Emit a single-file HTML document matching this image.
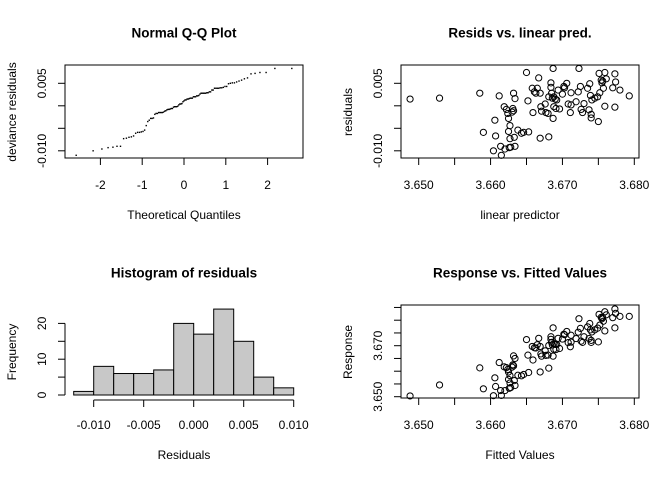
<!DOCTYPE html>
<html><head><meta charset="utf-8"><style>
body{margin:0;background:#fff}
svg{display:block;font-family:"Liberation Sans",Arial,sans-serif}
</style></head><body>
<svg id="c" width="672" height="480" xmlns="http://www.w3.org/2000/svg"></svg>
<script>
// data: linear predictor and residuals
const predVals=[3.6488,3.6529,3.6585,3.6590,3.6606,3.6604,3.6607,3.6612,3.6614,3.6615,3.6619,3.6620,3.6622,3.6624,3.6625,3.6625,3.6626,3.6627,3.6627,3.6628,3.6630,3.6631,3.6632,3.6632,3.6633,3.6634,3.6634,3.6638,3.6643,3.6646,3.6650,3.6652,3.6653,3.6658,3.6659,3.6661,3.6663,3.6665,3.6667,3.6669,3.6669,3.6670,3.6671,3.6676,3.6677,3.6680,3.6681,3.6681,3.6684,3.6684,3.6685,3.6686,3.6687,3.6687,3.6688,3.6688,3.6690,3.6691,3.6692,3.6694,3.6696,3.6700,3.6702,3.6703,3.6706,3.6708,3.6711,3.6712,3.6712,3.6719,3.6722,3.6723,3.6725,3.6726,3.6728,3.6730,3.6735,3.6737,3.6738,3.6739,3.6740,3.6740,3.6741,3.6745,3.6749,3.6750,3.6751,3.6752,3.6754,3.6755,3.6756,3.6757,3.6759,3.6759,3.6761,3.6770,3.6773,3.6773,3.6774,3.6780,3.6793];
const residVals=[0.0015,0.0017,0.0028,-0.0059,-0.0032,-0.0100,-0.0067,0.0022,-0.0090,-0.0110,-0.0002,-0.0096,-0.0008,-0.0017,-0.0028,-0.0057,-0.0093,-0.0044,-0.0073,-0.0092,-0.0014,-0.0006,0.0028,-0.0011,-0.0070,-0.0090,0.0016,-0.0054,-0.0061,-0.0059,0.0074,0.0011,-0.0058,0.0039,-0.0015,0.0031,0.0028,0.0039,0.0062,0.0028,-0.0072,-0.0002,-0.0012,0.0004,-0.0015,-0.0017,-0.0069,0.0020,0.0051,0.0041,0.0028,0.0017,-0.0028,0.0083,-0.0002,0.0020,0.0015,-0.0006,0.0013,0.0035,-0.0007,0.0026,0.0043,0.0040,0.0050,0.0004,-0.0015,0.0029,0.0002,0.0009,0.0031,0.0083,0.0043,-0.0008,-0.0015,0.0005,0.0039,-0.0009,0.0049,0.0023,-0.0019,-0.0027,0.0013,0.0017,0.0020,-0.0035,0.0072,0.0029,0.0057,0.0051,0.0055,0.0039,0.0074,-0.0001,0.0060,0.0040,0.0071,-0.0003,0.0053,0.0035,0.0022];
const histBreaks=[-0.012,-0.010,-0.008,-0.006,-0.004,-0.002,0,0.002,0.004,0.006,0.008,0.010];
const histCounts=[1,8,6,6,7,20,17,24,15,5,2];
const qqXTicks=[-2,-1,0,1,2];
const residTicks=[-0.010,-0.005,0,0.005];
const residTickLabels=["-0.010","","","0.005"];
const predTicks=[3.650,3.655,3.660,3.665,3.670,3.675,3.680];
const predTickLabels=["3.650","","3.660","","3.670","","3.680"];
const histXTicks=[-0.010,-0.005,0,0.005,0.010];
const histXLabels=["-0.010","-0.005","0.000","0.005","0.010"];
const histYTicks=[0,5,10,15,20];
const histYLabels=["0","","10","","20"];
const respTicks=[3.650,3.655,3.660,3.665,3.670,3.675,3.680,3.685];
const respTickLabels=["3.650","","","","3.670","","",""];

const svg=document.getElementById('c');
const NS='http://www.w3.org/2000/svg';
function mk(tag,attrs,name,parent){const e=document.createElementNS(NS,tag);for(const k in attrs)e.setAttribute(k,attrs[k]);


(parent||svg).appendChild(e);return e;}
function txt(s,x,y,name,opt,parent){opt=opt||{};const a={x:x,y:y,'font-size':opt.size||12,'text-anchor':'middle','dominant-baseline':'central',fill:'#000'};
if(opt.bold)a['font-weight']='bold';if(opt.rot)a.transform='rotate(-90 '+x+' '+y+')';const t=mk('text',a,name,parent);t.textContent=s;return t;}
function lin(d0,d1,r0,r1){return v=>r0+(v-d0)*(r1-r0)/(d1-d0);}

// qnorm (Acklam)
function qnorm(p){const a=[-39.6968302866538,220.946098424521,-275.928510446969,138.357751867269,-30.6647980661472,2.50662827745924],
b=[-54.4760987982241,161.585836858041,-155.698979859887,66.8013118877197,-13.2806815528857],
c=[-0.00778489400243029,-0.322396458041136,-2.40075827716184,-2.54973253934373,4.37466414146497,2.93816398269878],
d=[0.00778469570904146,0.32246712907004,2.445134137143,3.75440866190742];
let q,r;if(p<0.02425){q=Math.sqrt(-2*Math.log(p));return(((((c[0]*q+c[1])*q+c[2])*q+c[3])*q+c[4])*q+c[5])/((((d[0]*q+d[1])*q+d[2])*q+d[3])*q+1);}
if(p>1-0.02425){q=Math.sqrt(-2*Math.log(1-p));return-(((((c[0]*q+c[1])*q+c[2])*q+c[3])*q+c[4])*q+c[5])/((((d[0]*q+d[1])*q+d[2])*q+d[3])*q+1);}
q=p-0.5;r=q*q;return(((((a[0]*r+a[1])*r+a[2])*r+a[3])*r+a[4])*r+a[5])*q/(((((b[0]*r+b[1])*r+b[2])*r+b[3])*r+b[4])*r+1);}

function box(x0,y0,x1,y1,name,g){mk('rect',{x:x0,y:y0,width:x1-x0,height:y1-y0,fill:'none',stroke:'#000','stroke-width':1},name,g);}
function xAxis(g,ticks,labels,sx,yLine,labY,name){const ax=mk('g',{},name,g);
mk('line',{x1:sx(ticks[0]),x2:sx(ticks[ticks.length-1]),y1:yLine,y2:yLine,stroke:'#000'},name+'-line',ax);
ticks.forEach((t,i)=>{mk('line',{x1:sx(t),x2:sx(t),y1:yLine,y2:yLine+7,stroke:'#000'},'x-tick',ax);if(labels[i])txt(labels[i],sx(t),labY,'x-tick-label',{},ax);});}
function yAxis(g,ticks,labels,sy,xLine,labX,name){const ax=mk('g',{},name,g);
mk('line',{x1:xLine,x2:xLine,y1:sy(ticks[0]),y2:sy(ticks[ticks.length-1]),stroke:'#000'},name+'-line',ax);
ticks.forEach((t,i)=>{mk('line',{x1:xLine,x2:xLine-7,y1:sy(t),y2:sy(t),stroke:'#000'},'y-tick',ax);if(labels[i])txt(labels[i],labX,sy(t),'y-tick-label',{rot:true},ax);});}

// Panel 1: QQ
(function(){const g=mk('g',{},'qq-plot-panel');
const n=residVals.length;const sorted=residVals.slice().sort((a,b)=>a-b);
const sx=lin(0,1,184,225.8), sy=lin(0,0.001,105.8,101.3);
txt('Normal Q-Q Plot',184,33,'qq-title',{bold:true,size:13.5},g);
box(65,65,303,158,'qq-plot-box',g);
xAxis(g,qqXTicks,qqXTicks.map(String),sx,158,185,'qq-x-axis');
yAxis(g,residTicks,residTickLabels,sy,65,42,'qq-y-axis');
txt('Theoretical Quantiles',184,215,'qq-x-title',{},g);
txt('deviance residuals',12,112,'qq-y-title',{rot:true},g);
sorted.forEach((v,i)=>{const q=qnorm((i+0.5)/n);mk('rect',{x:sx(q)-0.7,y:sy(v)-0.7,width:1.4,height:1.4,fill:'#000'},'qq-point',g);});
})();

// Panel 2: resid vs pred
(function(){const g=mk('g',{},'resid-vs-pred-panel');
const sx=lin(3.650,3.680,418.7,634.3), sy=lin(0,0.001,105.8,101.3);
txt('Resids vs. linear pred.',520,33,'resid-title',{bold:true,size:13.5},g);
box(401,65,639,158,'resid-plot-box',g);
xAxis(g,predTicks,predTickLabels,sx,158,185,'resid-x-axis');
yAxis(g,residTicks,residTickLabels,sy,401,378,'resid-y-axis');
txt('linear predictor',520,215,'resid-x-title',{},g);
txt('residuals',348,112,'resid-y-title',{rot:true},g);
predVals.forEach((p,i)=>mk('circle',{cx:sx(p),cy:sy(residVals[i]),r:3.1,fill:'none',stroke:'#000','stroke-width':1},'resid-point',g));
})();

// Panel 3: histogram
(function(){const g=mk('g',{},'histogram-panel');
const sx=lin(0,0.001,193.7,203.7), sy=lin(0,10,395,359.2);
txt('Histogram of residuals',184,273,'hist-title',{bold:true,size:13.5},g);
histCounts.forEach((c,i)=>{const x0=sx(histBreaks[i]),x1=sx(histBreaks[i+1]);
mk('rect',{x:x0,y:sy(c),width:x1-x0,height:sy(0)-sy(c),fill:'#c8c8c8',stroke:'#000','stroke-width':1},'hist-bar',g);});
xAxis(g,histXTicks,histXLabels,sx,400,425,'hist-x-axis');
yAxis(g,histYTicks,histYLabels,sy,65,42,'hist-y-axis');
txt('Residuals',184,455,'hist-x-title',{},g);
txt('Frequency',12,352,'hist-y-title',{rot:true},g);
})();

// Panel 4: response vs fitted
(function(){const g=mk('g',{},'response-vs-fitted-panel');
const sx=lin(3.650,3.680,418.7,634.3), sy=lin(3.650,3.670,396.7,345.7);
txt('Response vs. Fitted Values',520,273,'response-title',{bold:true,size:13.5},g);
box(401,305,639,398,'response-plot-box',g);
xAxis(g,predTicks,predTickLabels,sx,398,425,'response-x-axis');
yAxis(g,respTicks,respTickLabels,sy,401,378,'response-y-axis');
txt('Fitted Values',520,455,'response-x-title',{},g);
txt('Response',348,352,'response-y-title',{rot:true},g);
predVals.forEach((p,i)=>mk('circle',{cx:sx(p),cy:sy(p+residVals[i]),r:3.1,fill:'none',stroke:'#000','stroke-width':1},'response-point',g));
})();
</script>
</body></html>
